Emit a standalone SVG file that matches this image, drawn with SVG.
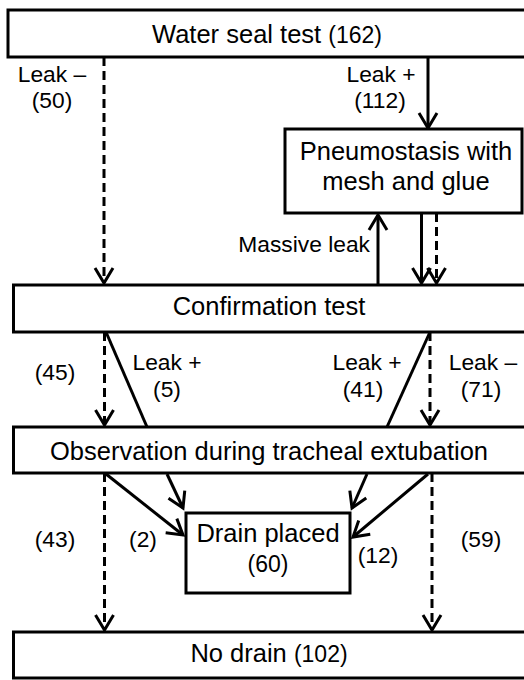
<svg xmlns="http://www.w3.org/2000/svg" width="524" height="680" viewBox="0 0 524 680">
  <style>
    .box { fill: #fff; stroke: #000; stroke-width: 3; }
    .main { font-family: "Liberation Sans", Arial, sans-serif; font-size: 25.5px; fill: #000; text-anchor: middle; }
    .num { font-size: 23px; }
    .lbl { font-family: "Liberation Sans", Arial, sans-serif; font-size: 22.8px; fill: #000; text-anchor: middle; }
    .edge { fill: none; stroke: #000; stroke-width: 3; }
    .dash { stroke-dasharray: 9 5; }
  </style>
  <defs>
    <marker id="arrow" markerUnits="userSpaceOnUse" markerWidth="24" markerHeight="24" viewBox="-18 -12 24 24" refX="0" refY="0" orient="auto">
      <path d="M-15,-9 L0,0 L-15,9" fill="none" stroke="#000" stroke-width="3"/>
    </marker>
  </defs>

  <g id="connectors">
    <!-- water seal test -->
    <line class="edge dash" x1="104" y1="57" x2="104" y2="283" marker-end="url(#arrow)"/>
    <line class="edge" x1="428" y1="57" x2="428" y2="128" marker-end="url(#arrow)"/>
    <!-- between pneumostasis and confirmation test -->
    <line class="edge" x1="378" y1="285" x2="378" y2="215" marker-end="url(#arrow)"/>
    <line class="edge" x1="421.5" y1="213" x2="421.5" y2="283" marker-end="url(#arrow)"/>
    <line class="edge dash" x1="436.5" y1="213" x2="436.5" y2="283" marker-end="url(#arrow)"/>
    <!-- confirmation test to observation -->
    <line class="edge dash" x1="104.5" y1="332" x2="104.5" y2="425" marker-end="url(#arrow)"/>
    <line class="edge" x1="106" y1="332" x2="147" y2="427"/>
    <line class="edge" x1="387" y1="427" x2="430" y2="332"/>
    <line class="edge dash" x1="430" y1="332" x2="430" y2="425" marker-end="url(#arrow)"/>
    <!-- observation to outcome -->
    <line class="edge dash" x1="104.5" y1="473" x2="104.5" y2="630" marker-end="url(#arrow)"/>
    <line class="edge" x1="106" y1="474" x2="183" y2="535" marker-end="url(#arrow)"/>
    <line class="edge" x1="167" y1="474" x2="183" y2="508" marker-end="url(#arrow)"/>
    <line class="edge" x1="367" y1="474" x2="352" y2="508" marker-end="url(#arrow)"/>
    <line class="edge" x1="428" y1="474" x2="353" y2="537" marker-end="url(#arrow)"/>
    <line class="edge dash" x1="432" y1="473" x2="432" y2="630" marker-end="url(#arrow)"/>
  </g>

  <g id="edge-labels">
    <text class="lbl" x="52" y="82">Leak –</text>
    <text class="lbl" x="52" y="108">(50)</text>
    <text class="lbl" x="381" y="82">Leak +</text>
    <text class="lbl" x="380" y="108">(112)</text>
    <text class="lbl" x="370" y="252" style="text-anchor:end">Massive leak</text>
    <text class="lbl" x="55" y="380">(45)</text>
    <text class="lbl" x="167" y="370">Leak +</text>
    <text class="lbl" x="167" y="397">(5)</text>
    <text class="lbl" x="367" y="370">Leak +</text>
    <text class="lbl" x="363" y="397">(41)</text>
    <text class="lbl" x="483" y="370">Leak –</text>
    <text class="lbl" x="481" y="397">(71)</text>
    <text class="lbl" x="55" y="547">(43)</text>
    <text class="lbl" x="143" y="547">(2)</text>
    <text class="lbl" x="378" y="563">(12)</text>
    <text class="lbl" x="481" y="547">(59)</text>
  </g>

  <g id="water-seal-test">
    <rect class="box" x="8" y="10" width="540" height="47"/>
    <text class="main" x="267" y="43">Water seal test <tspan class="num">(162)</tspan></text>
  </g>

  <g id="pneumostasis">
    <rect class="box" x="285" y="129" width="237" height="84"/>
    <text class="main" x="406" y="160">Pneumostasis with</text>
    <text class="main" x="406" y="190">mesh and glue</text>
  </g>

  <g id="confirmation-test">
    <rect class="box" x="13.5" y="285" width="540" height="47"/>
    <text class="main" x="269" y="315">Confirmation test</text>
  </g>

  <g id="observation">
    <rect class="box" x="13.5" y="427" width="540" height="46"/>
    <text class="main" x="269" y="460">Observation during tracheal extubation</text>
  </g>

  <g id="drain-placed">
    <rect class="box" x="186" y="513" width="164" height="80"/>
    <text class="main" x="268" y="542">Drain placed</text>
    <text class="main num" x="268" y="572">(60)</text>
  </g>

  <g id="no-drain">
    <rect class="box" x="13.5" y="632" width="540" height="46"/>
    <text class="main" x="269" y="662">No drain <tspan class="num">(102)</tspan></text>
  </g>
</svg>
